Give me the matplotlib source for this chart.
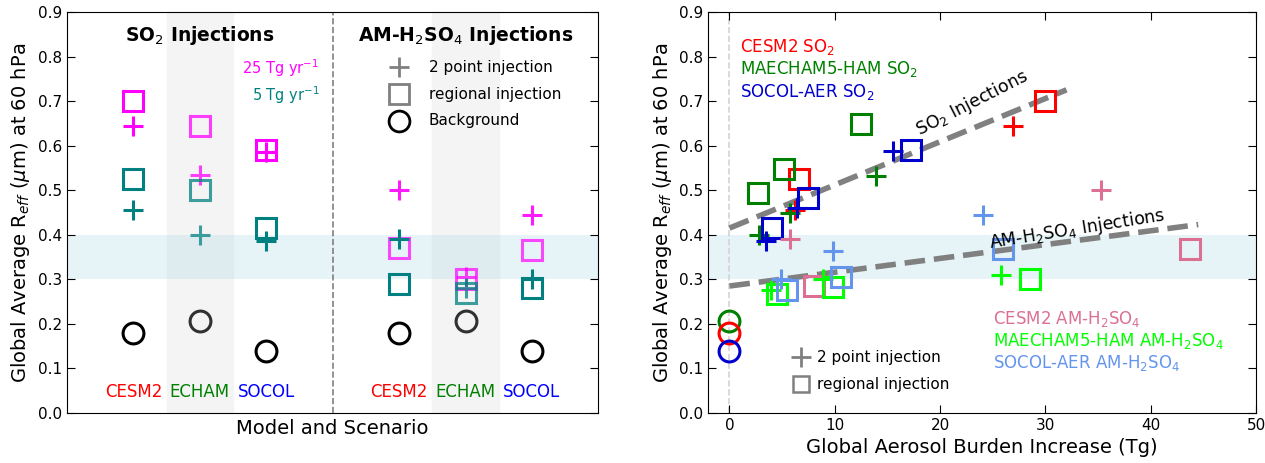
import matplotlib
matplotlib.use('Agg')
import matplotlib.pyplot as plt
import numpy as np

# ---- left panel data (x slot: 1,2,3 = SO2 CESM2/ECHAM/SOCOL, 5,6,7 = AM-H2SO4)
slots = [1, 2, 3, 5, 6, 7]
hi_sq = [0.70, 0.645, 0.59, 0.37, 0.30, 0.365]
hi_pl = [0.645, 0.535, 0.585, 0.50, 0.305, 0.445]
lo_sq = [0.525, 0.50, 0.415, 0.29, 0.27, 0.28]
lo_pl = [0.455, 0.40, 0.385, 0.39, 0.28, 0.30]
bg = [0.18, 0.207, 0.14, 0.18, 0.207, 0.14]
models = ['CESM2', 'ECHAM', 'SOCOL']
mcols = ['red', 'green', 'blue']

# ---- right panel data
so2 = {
    'CESM2': dict(c='red', sq_x=[30.0, 6.6], sq_y=[0.70, 0.525], pl_x=[26.9, 6.2], pl_y=[0.645, 0.455]),
    'MAECHAM5-HAM': dict(c='green', sq_x=[12.5, 5.2, 2.7], sq_y=[0.648, 0.547, 0.493],
                         pl_x=[13.9, 5.7, 2.8], pl_y=[0.532, 0.45, 0.40]),
    'SOCOL-AER': dict(c='#0000cc', sq_x=[17.2, 7.5, 4.0], sq_y=[0.59, 0.483, 0.415],
                      pl_x=[15.5, 6.4, 3.5], pl_y=[0.587, 0.46, 0.386]),
}
am = {
    'CESM2': dict(c='palevioletred', sq_x=[43.7, 8.0], sq_y=[0.369, 0.286], pl_x=[35.3, 5.7], pl_y=[0.50, 0.39]),
    'MAECHAM5-HAM': dict(c='lime', sq_x=[28.5, 9.8, 4.5], sq_y=[0.30, 0.283, 0.268],
                         pl_x=[25.8, 8.9, 3.9], pl_y=[0.31, 0.30, 0.277]),
    'SOCOL-AER': dict(c='cornflowerblue', sq_x=[26.0, 10.6, 5.5], sq_y=[0.367, 0.305, 0.275],
                      pl_x=[24.1, 9.8, 4.9], pl_y=[0.445, 0.364, 0.30]),
}
bg_r = [0.207, 0.18, 0.14]
bg_c = ['green', 'red', '#0000cc']
fit_so2 = (0.0097, 0.415)   # slope, intercept
fit_am = (0.0031, 0.285)

plt.rcParams['font.size'] = 11
fig = plt.figure(figsize=(12.65, 4.63), dpi=100)
ax1 = fig.add_axes([0.053, 0.108, 0.42, 0.866])
ax2 = fig.add_axes([0.56, 0.108, 0.433, 0.866])

ms_sq = 15
ms_pl = 15
mew = 2.2

# left
ax1.axvspan(1.5, 2.5, color='#f4f4f4', zorder=0)
ax1.axvspan(5.5, 6.5, color='#f4f4f4', zorder=0)
ax1.axhspan(0.3, 0.4, color='lightblue', alpha=0.3, lw=0, zorder=0)
ax1.axvline(4, color='gray', ls='--', lw=1.2)
for i, x in enumerate(slots):
    al = 0.75 if i in (1, 4) else 1.0
    am_al = 0.7 if i >= 3 else 1.0
    ax1.plot(x, hi_sq[i], 's', mfc='none', mec='magenta', ms=ms_sq, mew=mew, alpha=min(al, am_al))
    ax1.plot(x, hi_pl[i], '+', color='magenta', ms=ms_pl, mew=mew, alpha=min(al, 1.0 if i < 3 else 0.9))
    ax1.plot(x, lo_sq[i], 's', mfc='none', mec='teal', ms=ms_sq, mew=mew, alpha=al)
    ax1.plot(x, lo_pl[i], '+', color='teal', ms=ms_pl, mew=mew, alpha=al)
    ax1.plot(x, bg[i], 'o', mfc='none', mec='black', ms=ms_sq, mew=mew, alpha=0.8 if i in (1, 4) else 1.0)
    ax1.text(x, 0.035, models[i % 3], color=mcols[i % 3], ha='center', fontsize=12)
ax1.text(2, 0.835, r'SO$_2$ Injections', ha='center', fontsize=13.5, fontweight='bold')
ax1.text(6, 0.835, r'AM-H$_2$SO$_4$ Injections', ha='center', fontsize=13.5, fontweight='bold')
ax1.text(3.8, 0.76, r'25 Tg yr$^{-1}$', color='magenta', ha='right', fontsize=10.5)
ax1.text(3.8, 0.70, r'5 Tg yr$^{-1}$', color='teal', ha='right', fontsize=10.5)
ax1.plot(5.0, 0.776, '+', color='gray', ms=ms_pl, mew=2)
ax1.plot(5.0, 0.716, 's', mfc='none', mec='gray', ms=ms_sq, mew=2)
ax1.plot(5.0, 0.656, 'o', mfc='none', mec='black', ms=ms_sq, mew=2)
ax1.text(5.45, 0.776, '2 point injection', va='center', fontsize=11)
ax1.text(5.45, 0.716, 'regional injection', va='center', fontsize=11)
ax1.text(5.45, 0.656, 'Background', va='center', fontsize=11)
ax1.set_xlim(0, 8)
ax1.set_ylim(0, 0.9)
ax1.set_xticks([])
ax1.set_yticks(np.arange(0, 0.91, 0.1))
ax1.set_xlabel('Model and Scenario', fontsize=14)
ax1.set_ylabel(r'Global Average R$_{eff}$ ($\mu$m) at 60 hPa', fontsize=14)
ax1.tick_params(direction='in', right=True, length=6, labelsize=11)

# right
ax2.axhspan(0.3, 0.4, color='lightblue', alpha=0.3, lw=0, zorder=0)
ax2.axvline(0, color='lightgray', ls='--', lw=1.2, zorder=0)
xs = np.array([0, 32])
ax2.plot(xs, fit_so2[0] * xs + fit_so2[1], '--', color='gray', lw=4)
xa = np.array([0, 44.5])
ax2.plot(xa, fit_am[0] * xa + fit_am[1], '--', color='gray', lw=4)
for d in (so2, am):
    for k, v in d.items():
        ax2.plot(v['sq_x'], v['sq_y'], 's', mfc='none', mec=v['c'], ms=ms_sq, mew=mew, ls='none')
        ax2.plot(v['pl_x'], v['pl_y'], '+', color=v['c'], ms=ms_pl, mew=mew, ls='none')
for y, c in zip(bg_r, bg_c):
    ax2.plot(0, y, 'o', mfc='none', mec=c, ms=ms_sq, mew=mew, clip_on=False)
ty = 0.81
for k, v in so2.items():
    ax2.text(1, ty, k + r' SO$_2$', color=v['c'], fontsize=12)
    ty -= 0.05
ty = 0.20
for k, v in am.items():
    ax2.text(25, ty, k + r' AM-H$_2$SO$_4$', color=v['c'], fontsize=12)
    ty -= 0.05
ax2.text(17.3, 0.625, r'SO$_2$ Injections', rotation=27, fontsize=12.5, ha='left')
ax2.text(24.5, 0.37, r'AM-H$_2$SO$_4$ Injections', rotation=9, fontsize=12.5, ha='left')
ax2.plot(6.8, 0.125, '+', color='gray', ms=ms_pl, mew=2)
ax2.plot(6.8, 0.065, 's', mfc='none', mec='gray', ms=ms_sq * 0.8, mew=1.8)
ax2.text(8.3, 0.125, '2 point injection', va='center', fontsize=11)
ax2.text(8.3, 0.065, 'regional injection', va='center', fontsize=11)
ax2.set_xlim(-2, 50)
ax2.set_ylim(0, 0.9)
ax2.set_xticks(np.arange(0, 51, 10))
ax2.set_yticks(np.arange(0, 0.91, 0.1))
ax2.set_xlabel('Global Aerosol Burden Increase (Tg)', fontsize=14)
ax2.set_ylabel(r'Global Average R$_{eff}$ ($\mu$m) at 60 hPa', fontsize=14)
ax2.tick_params(direction='in', right=True, top=True, length=6, labelsize=11)

fig.savefig('out.png')
